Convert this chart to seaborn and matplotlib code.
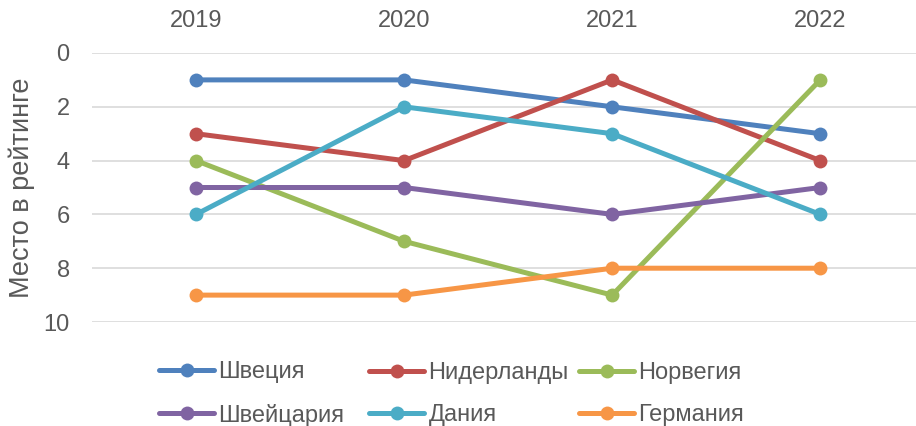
import pandas as pd
import matplotlib
matplotlib.use('Agg')
import matplotlib.pyplot as plt
import seaborn as sns

# Data
years = ['2019', '2020', '2021', '2022']
countries = ['Швеция', 'Нидерланды', 'Норвегия', 'Швейцария', 'Дания', 'Германия']
sweden = [1, 1, 2, 3]
netherlands = [3, 4, 1, 4]
norway = [4, 7, 9, 1]
switzerland = [5, 5, 6, 5]
denmark = [6, 2, 3, 6]
germany = [9, 9, 8, 8]
colors = ['#4F81BD', '#C0504D', '#9BBB59', '#8064A2', '#4BACC6', '#F79646']

series = [sweden, netherlands, norway, switzerland, denmark, germany]
rows = []
for name, vals in zip(countries, series):
    for i, v in enumerate(vals):
        rows.append({'country': name, 'x': i, 'rank': v})
df = pd.DataFrame(rows)

sns.set_style('white')
plt.rcParams['font.family'] = ['Liberation Sans', 'DejaVu Sans']
text_color = '#595959'

fig = plt.figure(figsize=(9.16, 4.26), dpi=100)
ax = fig.add_axes([0.1004, 0.2441, 0.8996, 0.6315])

sns.lineplot(data=df, x='x', y='rank', hue='country', hue_order=countries,
             palette=colors, marker='o', markersize=10, markeredgewidth=0,
             linewidth=3.6, sort=False, ax=ax, legend=True)

ax.set_ylim(10, 0)
ax.set_xlim(-0.5, 3.46)
ax.set_yticks(range(0, 11, 2))
ax.set_xticks(range(len(years)))
ax.set_xticklabels(years)
ax.xaxis.tick_top()
ax.tick_params(axis='x', length=0, pad=15, labelsize=17, labelcolor=text_color)
ax.tick_params(axis='y', length=0, pad=16, labelsize=17, labelcolor=text_color)
ax.set_xlabel('')
ax.set_ylabel('Место в рейтинге', fontsize=19.5, color=text_color)
ax.yaxis.set_label_coords(-0.069, 0.5)
ax.grid(axis='y', color='#D9D9D9', linewidth=1.2)
ax.grid(axis='x', visible=False)
for s in ax.spines.values():
    s.set_visible(False)

handles, labels = ax.get_legend_handles_labels()
ax.get_legend().remove()

# Excel-style legend: three equal-width columns, filled row by row
col_x = [159, 369, 579]
for c in range(3):
    idx = [c, c + 3]
    leg = fig.legend([handles[i] for i in idx], [labels[i] for i in idx],
                     loc='center left', bbox_to_anchor=(col_x[c] / 916, 1 - 394 / 426),
                     ncol=1, frameon=False, fontsize=17, labelcolor=text_color,
                     handlelength=2.35, handletextpad=0.17,
                     labelspacing=0.85, borderpad=0, borderaxespad=0)

fig.savefig('out.png', dpi=100)
